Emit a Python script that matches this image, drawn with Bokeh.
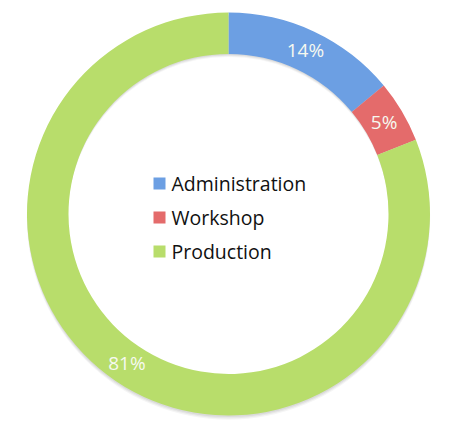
import numpy as np
from bokeh.plotting import figure
from bokeh.models import Range1d, ColumnDataSource
from bokeh.core.properties import value
from bokeh.embed import file_html
from bokeh.resources import INLINE

categories = ["Administration", "Workshop", "Production"]
shares = [14, 5, 81]
labels = ["14%", "5%", "81%"]
colors = ["#6c9fe3", "#e46b6b", "#b8dd6b"]

W, H = 473, 422
cx, cy = 228, H - 213.5
r_out, r_in = 201.5, 160

vals = np.array(shares, dtype=float)
frac = vals / vals.sum()
cum = np.concatenate([[0], np.cumsum(frac)])
start = np.pi / 2 - 2 * np.pi * cum[:-1]
end = np.pi / 2 - 2 * np.pi * cum[1:]
mid = (start + end) / 2
r_mid = (r_out + r_in) / 2

src = ColumnDataSource(dict(cat=categories, start=start, end=end, color=colors,
                            lx=cx + r_mid * np.cos(mid), ly=cy + r_mid * np.sin(mid),
                            label=labels))

p = figure(width=W, height=H, x_range=Range1d(0, W), y_range=Range1d(0, H),
           output_backend="svg", toolbar_location=None, min_border=0)
p.axis.visible = False
p.grid.visible = False
p.outline_line_color = None
p.background_fill_color = "white"

# soft shadow
for k, a in [(4, 0.04), (3, 0.05), (2, 0.06)]:
    p.annulus(x=cx, y=cy - k, inner_radius=r_in + 1, outer_radius=r_out - 1 + k * 0.3,
              inner_radius_units="screen", outer_radius_units="screen",
              fill_color="black", fill_alpha=a, line_color=None)

p.annular_wedge(x=cx, y=cy, inner_radius=r_in, outer_radius=r_out,
                inner_radius_units="screen", outer_radius_units="screen",
                start_angle="start", end_angle="end", direction="clock",
                fill_color="color", line_color=None, source=src)

p.text(x="lx", y="ly", text="label", source=src, text_color="#f6f9f0",
       text_font=value("Open Sans"), text_font_size="19px",
       text_align="center", text_baseline="middle")

# legend
ly0 = H - 183
step = 34
leg = ColumnDataSource(dict(
    x=[159] * 3, y=[ly0 - i * step for i in range(3)], color=colors, name=categories))
p.rect(x="x", y="y", width=12, height=12, width_units="screen", height_units="screen",
       fill_color="color", line_color=None, source=leg)
p.text(x=171, y="y", text="name", source=leg, text_color="#111111",
       text_font=value("Open Sans"), text_font_size="19.5px",
       text_align="left", text_baseline="middle")

open("out.html", "w").write(file_html(p, INLINE))
